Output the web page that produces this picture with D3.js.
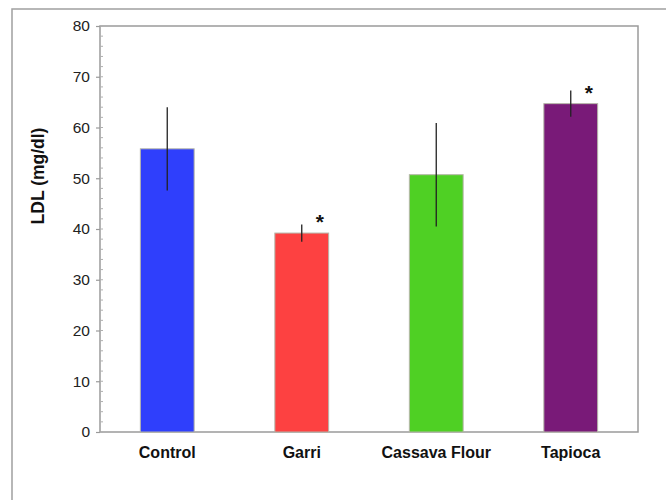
<!DOCTYPE html>
<html>
<head>
<meta charset="utf-8">
<script src="https://cdn.jsdelivr.net/npm/d3@7"></script>
<style>
  body { margin: 0; background: #fff; }
  svg { display: block; font-family: "Liberation Sans", Arial, sans-serif; }
</style>
</head>
<body>
<svg id="chart" width="666" height="500"></svg>
<script>
// chart data
const groups = ["Control", "Garri", "Cassava Flour", "Tapioca"];
const ldl = [55.8, 39.2, 50.7, 64.7];
const errs = [8.2, 1.7, 10.2, 2.6];
const significant = [false, true, false, true];
const colors = ["#2f3ffc", "#fd4141", "#4fd024", "#791a78"];
const yTicks = [0, 10, 20, 30, 40, 50, 60, 70, 80];

const svg = d3.select("#chart");

// outer frame (runs off the right and bottom edges)
svg.append("rect")
    .attr("x", 12).attr("y", 9)
    .attr("width", 700).attr("height", 600)
    .attr("fill", "none")
    .attr("stroke", "#a0a0a0")
    .attr("stroke-width", 1.5);

const plotLeft = 100, plotTop = 26, plotRight = 638, plotBottom = 432;

const x = d3.scaleBand()
    .domain(groups)
    .range([plotLeft, plotRight])
    .paddingInner(0.6)
    .paddingOuter(0.3);

const y = d3.scaleLinear()
    .domain([0, 80])
    .range([plotBottom, plotTop]);

// plot frame
svg.append("rect")
    .attr("x", plotLeft).attr("y", plotTop)
    .attr("width", plotRight - plotLeft).attr("height", plotBottom - plotTop)
    .attr("fill", "none")
    .attr("stroke", "#9a9a9a")
    .attr("stroke-width", 1.5);

// minor ticks, every 2 units, inside the plot
svg.append("g")
    .selectAll("line")
    .data(d3.range(0, 81, 2))
    .enter().append("line")
    .attr("x1", plotLeft).attr("x2", plotLeft + 3)
    .attr("y1", d => y(d)).attr("y2", d => y(d))
    .attr("stroke", "#b0b0b0")
    .attr("stroke-width", 1);

// y axis with major ticks
const yAxis = svg.append("g")
    .attr("transform", `translate(${plotLeft},0)`)
    .call(d3.axisLeft(y).tickValues(yTicks).tickSize(4).tickPadding(6));
yAxis.select(".domain").remove();
yAxis.selectAll(".tick line").attr("stroke", "#9a9a9a").attr("stroke-width", 1.2);
yAxis.selectAll(".tick text")
    .attr("fill", "#222")
    .style("font-size", "15.5px")
    .style("font-family", "'Liberation Sans', Arial, sans-serif");

// bars
svg.append("g")
    .selectAll("rect")
    .data(groups)
    .enter().append("rect")
    .attr("x", d => x(d))
    .attr("y", (d, i) => y(ldl[i]))
    .attr("width", x.bandwidth())
    .attr("height", (d, i) => y(0) - y(ldl[i]))
    .attr("fill", (d, i) => colors[i])
    .attr("stroke", "#b5b5a8")
    .attr("stroke-width", 1);

// error bars (no caps)
svg.append("g")
    .selectAll("line")
    .data(groups)
    .enter().append("line")
    .attr("x1", d => x(d) + x.bandwidth() / 2)
    .attr("x2", d => x(d) + x.bandwidth() / 2)
    .attr("y1", (d, i) => y(ldl[i] + errs[i]))
    .attr("y2", (d, i) => y(ldl[i] - errs[i]))
    .attr("stroke", "#222")
    .attr("stroke-width", 1.3);

// significance stars
svg.append("g")
    .selectAll("text")
    .data(groups.filter((d, i) => significant[i]))
    .enter().append("text")
    .attr("x", d => x(d) + x.bandwidth() / 2 + 18)
    .attr("y", d => y(ldl[groups.indexOf(d)]) - 4)
    .attr("text-anchor", "middle")
    .attr("fill", "#111")
    .style("font-size", "21px")
    .style("font-weight", "bold")
    .text("*");

// category labels
svg.append("g")
    .selectAll("text")
    .data(groups)
    .enter().append("text")
    .attr("x", d => x(d) + x.bandwidth() / 2)
    .attr("y", 458)
    .attr("text-anchor", "middle")
    .attr("fill", "#111")
    .style("font-size", "16px")
    .style("font-weight", "bold")
    .text(d => d);

// y axis title
svg.append("text")
    .attr("transform", "translate(44,176) rotate(-90)")
    .attr("text-anchor", "middle")
    .attr("fill", "#111")
    .style("font-size", "17.5px")
    .style("font-weight", "bold")
    .text("LDL (mg/dl)");
</script>
</body>
</html>
